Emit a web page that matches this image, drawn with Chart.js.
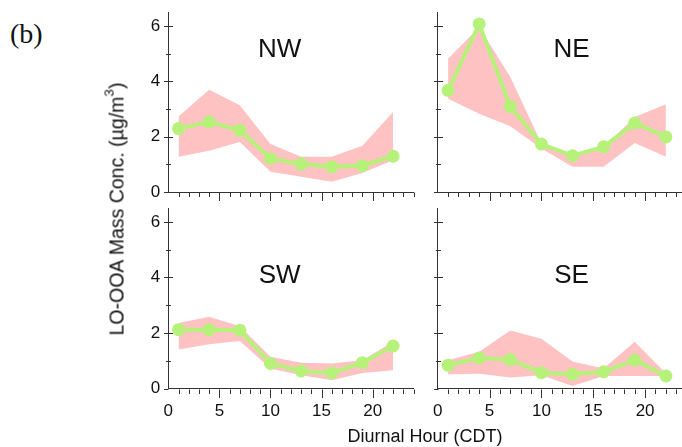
<!DOCTYPE html>
<html>
<head>
<meta charset="utf-8">
<title>LO-OOA diurnal profiles by wind sector</title>
<script src="https://cdn.jsdelivr.net/npm/chart.js@4.4.1/dist/chart.umd.min.js"></script>
<style>
  html, body { margin: 0; padding: 0; background: #fff; overflow: hidden; }
  body { width: 682px; height: 447px; position: relative; font-family: "Liberation Sans", Arial, sans-serif; }
  canvas { position: absolute; }
  .txt { position: absolute; white-space: nowrap; color: #111; }
  #panelTag { left: 10px; top: 20px; font: 28px/1 "Liberation Serif", "Times New Roman", serif; }
  #yTitle { left: 116.5px; top: 209px; font-size: 19.5px; transform: translate(-50%, -50%) rotate(-90deg); }
  #yTitle .sup { position: relative; top: -0.75em; font-size: 0.7em; }
  #xTitle { left: 425px; top: 436px; font-size: 18px; transform: translate(-50%, -50%); }
</style>
</head>
<body>
<canvas id="nw" width="300" height="205" style="left:120px;top:0px"></canvas>
<canvas id="ne" width="270" height="205" style="left:425px;top:0px"></canvas>
<canvas id="sw" width="300" height="251" style="left:120px;top:196px"></canvas>
<canvas id="se" width="270" height="251" style="left:425px;top:196px"></canvas>
<div class="txt" id="panelTag">(b)</div>
<div class="txt" id="yTitle">LO-OOA Mass Conc. (µg/m<span class="sup">3</span>)</div>
<div class="txt" id="xTitle">Diurnal Hour (CDT)</div>
<script>
// 3-hour bins of the diurnal cycle
const hours = [1, 4, 7, 10, 13, 16, 19, 22];

// NW sector
const nwMean = [2.29, 2.53, 2.23, 1.21, 1.01, 0.91, 0.95, 1.29];
const nwHigh = [2.73, 3.69, 3.13, 1.73, 1.27, 1.27, 1.67, 2.89];
const nwLow  = [1.27, 1.49, 1.81, 0.73, 0.55, 0.37, 0.69, 1.15];

// NE sector
const neMean = [3.67, 6.07, 3.09, 1.73, 1.31, 1.63, 2.49, 1.99];
const neHigh = [4.81, 5.95, 4.15, 1.75, 1.33, 1.62, 2.71, 3.17];
const neLow  = [3.37, 2.83, 2.37, 1.57, 0.91, 0.91, 1.77, 1.27];

// SW sector
const swMean = [2.12, 2.12, 2.10, 0.90, 0.63, 0.56, 0.93, 1.53];
const swHigh = [2.36, 2.58, 2.24, 1.14, 0.93, 0.90, 1.02, 1.68];
const swLow  = [1.40, 1.59, 1.71, 0.72, 0.48, 0.30, 0.56, 0.66];

// SE sector
const seMean = [0.84, 1.10, 1.04, 0.57, 0.51, 0.60, 1.02, 0.45];
const seHigh = [1.02, 1.32, 2.09, 1.79, 0.97, 0.72, 1.68, 0.54];
const seLow  = [0.51, 0.53, 0.40, 0.48, 0.09, 0.45, 0.45, 0.45];

const xTicks = [0, 5, 10, 15, 20];
const yTicks = [0, 2, 4, 6];

const AXIS = "#333";
const GREEN = "#b6f27a";
const PINK = "#ffc2c2";
const FONT = "Liberation Sans, Arial, sans-serif";

const pts = (ys) => hours.map((h, i) => ({ x: h, y: ys[i] }));

// keep the plot box fixed: no extra room reserved for label overhang
const noPad = (s) => {
  s.paddingTop = s.paddingBottom = s.paddingLeft = s.paddingRight = 0;
};

// tick marks (major + minor) and the sector name inside each panel
const panelDecor = {
  id: "panelDecor",
  afterDraw(chart, args, opts) {
    const { ctx, scales: { x, y } } = chart;
    const x0 = Math.round(x.getPixelForValue(0)) + 0.5;
    const y0 = Math.round(y.getPixelForValue(0)) + 0.5;
    ctx.save();
    ctx.strokeStyle = AXIS;
    ctx.lineWidth = 1;
    ctx.beginPath();
    for (let h = 1; h <= 24; h++) {
      const px = Math.round(x.getPixelForValue(h)) + 0.5;
      const len = h % 5 === 0 ? 8.5 : 4.5;
      ctx.moveTo(px, y0);
      ctx.lineTo(px, y0 + len);
    }
    for (let v = 1; v <= 6; v++) {
      const py = Math.round(y.getPixelForValue(v)) + 0.5;
      const len = v % 2 === 0 ? 4.5 : 2.5;
      ctx.moveTo(x0 - len, py);
      ctx.lineTo(x0 + len, py);
    }
    ctx.moveTo(x0 - 4.5, y0);
    ctx.lineTo(x0, y0);
    ctx.stroke();

    ctx.fillStyle = "#111";
    ctx.font = "26px " + FONT;
    ctx.textAlign = "center";
    ctx.textBaseline = "middle";
    ctx.fillText(opts.name, x.getPixelForValue(opts.at[0]), y.getPixelForValue(opts.at[1]));
    ctx.restore();
  }
};

function makePanel(id, name, at, mean, high, low, o) {
  new Chart(document.getElementById(id), {
    type: "line",
    data: {
      datasets: [
        {
          data: pts(mean),
          borderColor: GREEN,
          borderWidth: 4,
          pointRadius: 6.5,
          pointBackgroundColor: GREEN,
          pointBorderWidth: 0,
          tension: 0,
          fill: false
        },
        {
          data: pts(high),
          borderWidth: 0,
          pointRadius: 0,
          backgroundColor: PINK,
          fill: "+1"
        },
        {
          data: pts(low),
          borderWidth: 0,
          pointRadius: 0,
          fill: false
        }
      ]
    },
    options: {
      responsive: false,
      animation: false,
      layout: { padding: { top: 12, right: o.padRight, left: 0, bottom: 0 } },
      scales: {
        x: {
          type: "linear",
          min: 0,
          max: 24,
          afterBuildTicks: (s) => { s.ticks = xTicks.map((v) => ({ value: v })); },
          afterFit: (s) => { s.height = o.xHeight; noPad(s); },
          grid: { display: false, drawTicks: false },
          border: { display: true, color: AXIS, width: 1 },
          ticks: {
            display: o.xLabels,
            padding: 13,
            color: "#111",
            font: { family: FONT, size: 17 }
          }
        },
        y: {
          min: 0,
          max: 6.5,
          afterBuildTicks: (s) => { s.ticks = yTicks.map((v) => ({ value: v })); },
          afterFit: (s) => { s.width = o.yWidth; noPad(s); },
          grid: { display: false, drawTicks: false },
          border: { display: true, color: AXIS, width: 1 },
          ticks: {
            display: o.yLabels,
            padding: 8,
            color: "#111",
            font: { family: FONT, size: 17 }
          }
        }
      },
      plugins: {
        legend: { display: false },
        tooltip: { enabled: false },
        panelDecor: { name, at }
      }
    },
    plugins: [panelDecor]
  });
}

const leftCol = { yWidth: 48.3, padRight: 3.3, yLabels: true };
const rightCol = { yWidth: 12.7, padRight: 8.4, yLabels: false };

makePanel("nw", "NW", [10.9, 5.13], nwMean, nwHigh, nwLow, { ...leftCol, xHeight: 13, xLabels: false });
makePanel("ne", "NE", [12.9, 5.13], neMean, neHigh, neLow, { ...rightCol, xHeight: 13, xLabels: false });
makePanel("sw", "SW", [10.9, 4.05], swMean, swHigh, swLow, { ...leftCol, xHeight: 58.5, xLabels: true });
makePanel("se", "SE", [12.9, 4.05], seMean, seHigh, seLow, { ...rightCol, xHeight: 58.5, xLabels: true });
</script>
</body>
</html>
